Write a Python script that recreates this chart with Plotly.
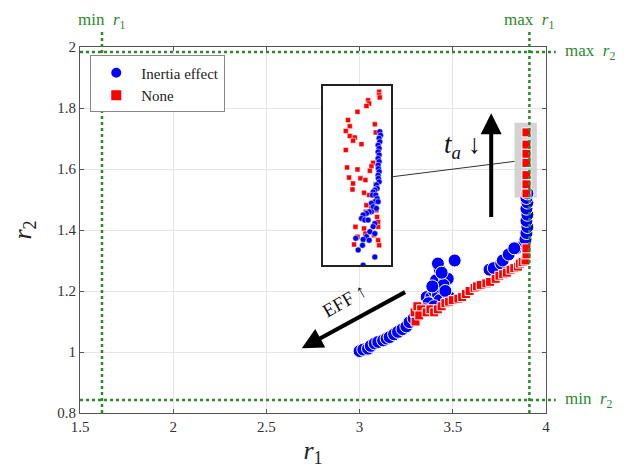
import plotly.graph_objects as go

# ---------------- data ----------------
inertia_r1 = [3.00, 3.02, 3.045, 3.06, 3.081, 3.10, 3.126, 3.145, 3.161, 3.185, 3.206, 3.23, 3.251, 3.268,
              3.29, 3.31, 3.36, 3.385, 3.40, 3.42, 3.43, 3.44, 3.41, 3.456, 3.473, 3.43, 3.42, 3.51, 3.48,
              3.45, 3.37, 3.40, 3.35, 3.33, 3.39, 3.44, 3.46,
              3.697, 3.72, 3.76, 3.768, 3.80, 3.84, 3.885, 3.83,
              3.89, 3.895, 3.90, 3.895, 3.90, 3.895, 3.90, 3.895, 3.90]
inertia_r2 = [1.003, 1.008, 1.011, 1.02, 1.028, 1.033, 1.038, 1.044, 1.049, 1.058, 1.066, 1.075, 1.084, 1.098,
              1.11, 1.12, 1.18, 1.18, 1.20, 1.19, 1.17, 1.21, 1.235, 1.245, 1.24, 1.27, 1.29, 1.30, 1.18,
              1.22, 1.16, 1.15, 1.14, 1.13, 1.215, 1.26, 1.20,
              1.27, 1.275, 1.29, 1.30, 1.32, 1.34, 1.36, 1.34,
              1.37, 1.39, 1.41, 1.43, 1.45, 1.47, 1.49, 1.505, 1.52]

none_r1 = [3.30, 3.295, 3.31, 3.33, 3.32, 3.36, 3.38, 3.40, 3.42, 3.44, 3.46, 3.48, 3.50, 3.53, 3.55, 3.57,
           3.59, 3.617, 3.63, 3.65, 3.68, 3.70, 3.73, 3.75, 3.77, 3.79, 3.81, 3.83, 3.85, 3.86, 3.875,
           3.89, 3.895, 3.895,
           3.895, 3.895, 3.895, 3.895, 3.895, 3.895, 3.895]
none_r2 = [1.10, 1.13, 1.15, 1.14, 1.12, 1.13, 1.14, 1.13, 1.14, 1.15, 1.16, 1.165, 1.17, 1.175, 1.18, 1.19,
           1.20, 1.21, 1.215, 1.22, 1.225, 1.23, 1.24, 1.25, 1.255, 1.26, 1.27, 1.275, 1.28, 1.29, 1.295,
           1.30, 1.32, 1.34,
           1.52, 1.55, 1.58, 1.62, 1.65, 1.68, 1.72]

# zoomed-in inset (region of the grey box)
inset_inertia_r1 = [3.9103, 3.9109, 3.9097, 3.9103, 3.9088, 3.9097, 3.9088, 3.9097, 3.9088, 3.9097, 3.9088,
                    3.9090, 3.9097, 3.9088, 3.9090, 3.9097, 3.9073, 3.9079, 3.9059, 3.9044, 3.9038, 3.9067,
                    3.9079, 3.9059, 3.9088, 3.9029, 3.9044, 3.9073, 3.9029, 3.9009, 3.8985, 3.8956, 3.8941,
                    3.8970, 3.9000, 3.9059, 3.9044, 3.9015, 3.9059, 3.8985, 3.8956, 3.9009, 3.8950, 3.8891,
                    3.8912, 3.9059, 3.8956]
inset_inertia_r2 = [1.643, 1.634, 1.626, 1.617, 1.608, 1.600, 1.591, 1.583, 1.574, 1.566, 1.557,
                    1.548, 1.540, 1.531, 1.523, 1.514, 1.506, 1.497, 1.493, 1.488, 1.480, 1.480,
                    1.471, 1.463, 1.463, 1.459, 1.450, 1.446, 1.437, 1.437, 1.433, 1.429, 1.420,
                    1.416, 1.416, 1.407, 1.399, 1.386, 1.381, 1.373, 1.366, 1.364, 1.351, 1.369,
                    1.339, 1.321, 1.300]
inset_none_r1 = [3.9097, 3.9097, 3.9103, 3.9000, 3.9009, 3.8985, 3.8906, 3.8823, 3.8838, 3.8803, 3.9059,
                 3.9067, 3.8838, 3.8882, 3.8867, 3.8941, 3.8803, 3.9044, 3.9029, 3.8814, 3.8906, 3.9015,
                 3.8832, 3.8932, 3.8976, 3.9067, 3.8867, 3.8862, 3.8964, 3.9009, 3.8985, 3.9029, 3.8979,
                 3.9073, 3.9079, 3.9088, 3.9088, 3.8888, 3.8964, 3.8906, 3.9050, 3.8976, 3.9088, 3.9097,
                 3.8876]
inset_none_r2 = [1.7455, 1.737, 1.731, 1.724, 1.7155, 1.709, 1.694, 1.673, 1.657, 1.645, 1.662,
                 1.641, 1.632, 1.628, 1.620, 1.611, 1.596, 1.563, 1.554, 1.551, 1.546, 1.5425,
                 1.525, 1.523, 1.5185, 1.508, 1.510, 1.4945, 1.486, 1.480, 1.454, 1.450, 1.437,
                 1.441, 1.424, 1.411, 1.3985, 1.3985, 1.394, 1.373, 1.377, 1.381, 1.364, 1.351,
                 1.353]

x_ticks = [1.5, 2, 2.5, 3, 3.5, 4]
y_ticks = [0.8, 1, 1.2, 1.4, 1.6, 1.8, 2]

R1_MIN, R1_MAX = 1.618, 3.911
R2_MIN, R2_MAX = 0.843, 1.984

# grey highlight box and annotation arrows (data coordinates)
BOX_R1 = (3.831, 3.951)
BOX_R2 = (1.506, 1.752)
TA_ARROW = dict(x=3.706, tail=1.438, tip=1.783)
EFF_ARROW = dict(tail=(3.252, 1.199), tip=(2.690, 1.012))

# ---------------- figure ----------------
FONT = "Liberation Serif, Times New Roman, serif"
GREEN = "#2a8a2a"
BLUE = "#0000ff"
RED = "#ff0000"

fig = go.Figure()

fig.add_trace(go.Scatter(
    x=inertia_r1, y=inertia_r2, mode="markers", name="Inertia effect",
    marker=dict(symbol="circle", size=13, color=BLUE, line=dict(color="white", width=1)),
))
fig.add_trace(go.Scatter(
    x=none_r1, y=none_r2, mode="markers", name="None",
    marker=dict(symbol="square", size=9, color=RED, line=dict(color="white", width=1)),
))
fig.add_trace(go.Scatter(
    x=inset_none_r1, y=inset_none_r2, mode="markers", xaxis="x2", yaxis="y2", showlegend=False,
    marker=dict(symbol="square", size=5, color=RED, line=dict(color="white", width=0.5)),
))
fig.add_trace(go.Scatter(
    x=inset_inertia_r1, y=inset_inertia_r2, mode="markers", xaxis="x2", yaxis="y2", showlegend=False,
    marker=dict(symbol="circle", size=6, color=BLUE, line=dict(color="white", width=0.5)),
))

XR = [1.5, 4]
YR = [0.8, 2]

axis_common = dict(
    showgrid=True, gridcolor="#e5e5e5", gridwidth=1, automargin=False,
    zeroline=False, showline=True, linecolor="#555555", linewidth=1, mirror="ticks",
    ticks="inside", ticklen=4, tickcolor="#555555",
    tickfont=dict(family=FONT, size=15, color="#333333"),
)

# the page adds an 8px body margin, so the figure is 8px smaller with margins shifted
fig.update_layout(
    width=631, height=463,
    margin=dict(l=72, r=93, t=39, b=58, autoexpand=False),
    paper_bgcolor="white", plot_bgcolor="white",
    font=dict(family=FONT, color="#333333"),
    xaxis=dict(range=XR, tickvals=x_ticks, ticktext=[f"{v:g}" for v in x_ticks],
               title=dict(text="<i>r</i><sub>1</sub>", font=dict(family=FONT, size=26, color="#222"), standoff=6),
               **axis_common),
    yaxis=dict(range=YR, tickvals=y_ticks, ticktext=[f"{v:g}" for v in y_ticks],
               title=dict(text="<i>r</i><sub>2</sub>", font=dict(family=FONT, size=26, color="#222"), standoff=18),
               **axis_common),
    xaxis2=dict(domain=[0.521, 0.667], anchor="y2", range=[3.86, 3.92], showgrid=False, zeroline=False,
                showticklabels=False, ticks="", showline=True, linecolor="#222", linewidth=1.5, mirror=True),
    yaxis2=dict(domain=[0.404, 0.893], anchor="x2", range=[1.30, 1.76], showgrid=False, zeroline=False,
                showticklabels=False, ticks="", showline=True, linecolor="#222", linewidth=1.5, mirror=True),
    legend=dict(x=0.022, y=0.977, xanchor="left", yanchor="top",
                bgcolor="white", bordercolor="#888888", borderwidth=1,
                font=dict(family=FONT, size=15, color="#222"),
                itemsizing="constant", itemwidth=40, tracegroupgap=0),
    showlegend=True,
)

shapes = []
dot = dict(color=GREEN, width=2.5, dash="dot")
for v in (R1_MIN, R1_MAX):
    shapes.append(dict(type="line", xref="x", yref="paper", x0=v, x1=v, y0=0, y1=1.046, line=dot, layer="above"))
for v in (R2_MIN, R2_MAX):
    shapes.append(dict(type="line", xref="paper", yref="y", x0=0, x1=1.021, y0=v, y1=v, line=dot, layer="above"))
shapes.append(dict(type="rect", xref="x", yref="y", x0=BOX_R1[0], x1=BOX_R1[1], y0=BOX_R2[0], y1=BOX_R2[1],
                   fillcolor="rgba(200,200,200,0.8)", line=dict(width=0), layer="between"))
fig.update_layout(shapes=shapes)

annotations = [
    dict(x=R1_MIN, y=1.072, xref="x", yref="paper", text="min  <i>r</i><sub>1</sub>", showarrow=False,
         font=dict(family=FONT, size=17, color=GREEN), xanchor="center", yanchor="middle"),
    dict(x=R1_MAX, y=1.072, xref="x", yref="paper", text="max  <i>r</i><sub>1</sub>", showarrow=False,
         font=dict(family=FONT, size=17, color=GREEN), xanchor="center", yanchor="middle"),
    dict(x=1.036, y=R2_MAX, xref="paper", yref="y", text="max  <i>r</i><sub>2</sub>", showarrow=False,
         font=dict(family=FONT, size=17, color=GREEN), xanchor="left"),
    dict(x=1.036, y=R2_MIN, xref="paper", yref="y", text="min  <i>r</i><sub>2</sub>", showarrow=False,
         font=dict(family=FONT, size=17, color=GREEN), xanchor="left"),
    # vertical arrow
    dict(x=TA_ARROW["x"], y=TA_ARROW["tip"], ax=TA_ARROW["x"], ay=TA_ARROW["tail"], xref="x", yref="y",
         axref="x", ayref="y", showarrow=True, arrowhead=2, arrowsize=1.05, arrowwidth=4, arrowcolor="black",
         text=""),
    dict(x=3.55, y=1.675, xref="x", yref="y", text="<i>t</i><sub><i>a</i></sub> ↓", showarrow=False,
         font=dict(family=FONT, size=27, color="#111")),
    # diagonal arrow
    dict(x=EFF_ARROW["tip"][0], y=EFF_ARROW["tip"][1], ax=EFF_ARROW["tail"][0], ay=EFF_ARROW["tail"][1],
         xref="x", yref="y", axref="x", ayref="y", showarrow=True, arrowhead=2, arrowsize=1.05, arrowwidth=4,
         arrowcolor="black", text=""),
    dict(x=2.92, y=1.168, xref="x", yref="y", text="EFF ↑", textangle=-30, showarrow=False,
         font=dict(family=FONT, size=19, color="#111")),
]
fig.update_layout(annotations=annotations)

# connector line: from inset right edge to left edge of grey box
def frac_x(v):
    return (v - XR[0]) / (XR[1] - XR[0])
def frac_y(v):
    return (v - YR[0]) / (YR[1] - YR[0])

fig.add_shape(type="line", xref="paper", yref="paper",
              x0=0.667, y0=0.645, x1=frac_x(BOX_R1[0]), y1=frac_y(1.625),
              line=dict(color="#333333", width=1), layer="above")

fig.write_html("out.html")
